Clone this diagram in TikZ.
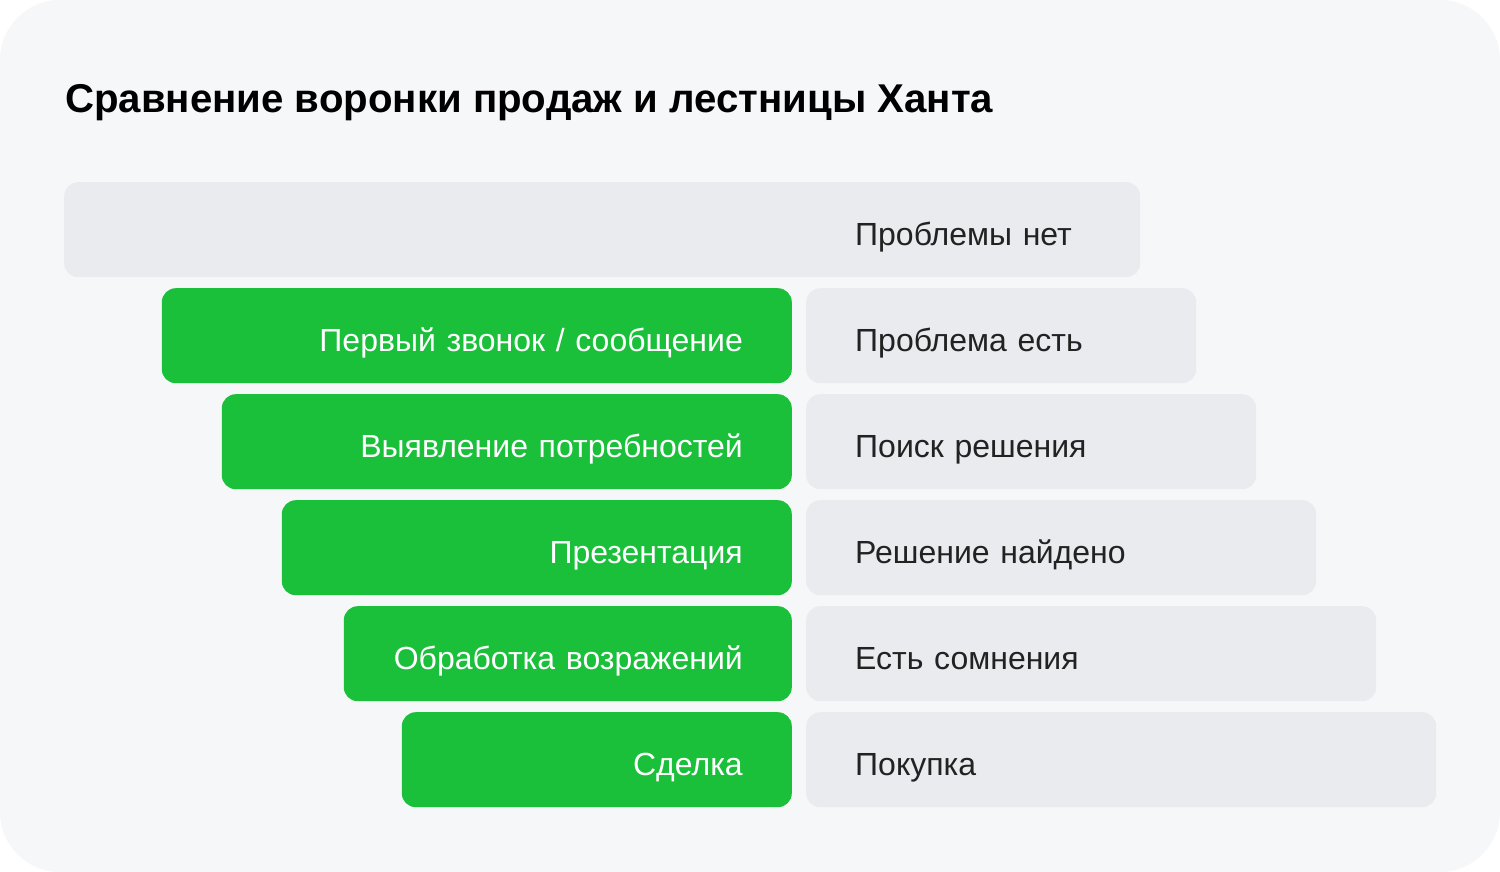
\documentclass[tikz,border=0pt]{standalone}
\usepackage{fontspec}
\setmainfont{Liberation Sans}
\usetikzlibrary{positioning}
\definecolor{pagebg}{HTML}{F6F7F9}
\definecolor{stepgray}{HTML}{EAEBEF}
\definecolor{funnelgreen}{HTML}{1ABF3A}
\definecolor{labeltext}{HTML}{222222}

\begin{document}
\begin{tikzpicture}[x=1pt,y=-1pt]

      \useasboundingbox (0,0) rectangle (1500,872);
      \fill[pagebg, rounded corners=60pt] (0,0) rectangle (1500,872);

      \node[anchor=base west, inner sep=0pt,
        font=\fontsize{40.2}{46}\selectfont\bfseries] (title) at (65,113)
        {Сравнение воронки продаж и лестницы Ханта};

      \begin{scope}[every node/.style={rounded corners=14pt, minimum height=95pt,
          inner xsep=49pt, inner ysep=0pt, anchor=north west,
          text height=31pt, text depth=0pt,
          font=\fontsize{32}{38}\selectfont}]
        % hunt ladder
        \begin{scope}[every node/.append style={fill=stepgray, text=labeltext, align=left}]
          \node[text width=978pt] (no) at (64,182) {\hspace*{742pt}Проблемы нет};
          \node[text width=292pt] (aware) at (806,288) {Проблема есть};
          \node[text width=352pt] (search) at (806,394) {Поиск решения};
          \node[text width=412pt] (found) at (806,500) {Решение найдено};
          \node[text width=472pt] (doubt) at (806,606) {Есть сомнения};
          \node[text width=532pt] (buy) at (806,712) {Покупка};
        \end{scope}
        % sales funnel
        \begin{scope}[every node/.append style={fill=funnelgreen, text=white, align=right, anchor=north east}]
          \node[text width=532pt] (call) at (792,288) {Первый звонок / сообщение};
          \node[text width=472pt] (needs) at (792,394) {Выявление потребностей};
          \node[text width=412pt] (pres) at (792,500) {Презентация};
          \node[text width=350pt] (objection) at (792,606) {Обработка возражений};
          \node[text width=292pt] (deal) at (792,712) {Сделка};
        \end{scope}
      \end{scope}
    \end{tikzpicture}
\end{document}
